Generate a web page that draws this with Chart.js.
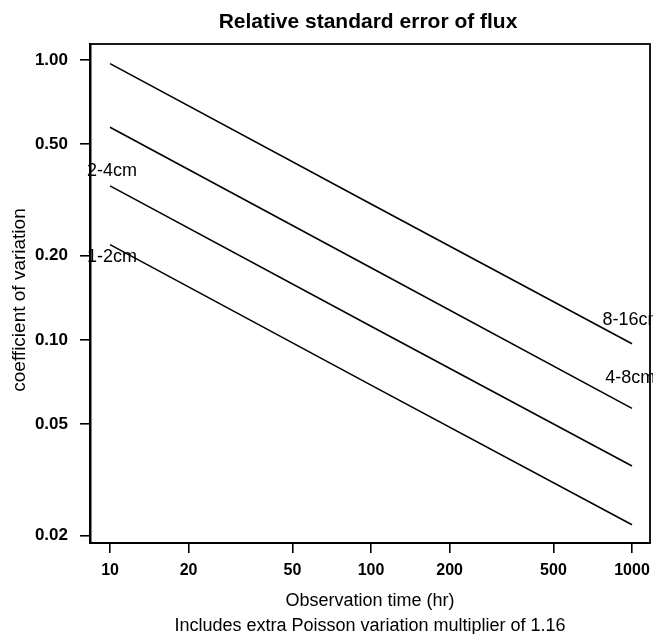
<!DOCTYPE html>
<html>
<head>
<meta charset="utf-8">
<script src="https://cdn.jsdelivr.net/npm/chart.js@4"></script>
<style>
  html, body { margin: 0; padding: 0; background: #fff; }
  #wrap { width: 653px; height: 634px; }
</style>
</head>
<body>
<div id="wrap"><canvas id="myChart" width="653" height="634"></canvas></div>
<script>
// observation time (hr) and coefficient of variation
var hours = [10, 100, 1000];
var cv_8_16 = [0.97, 0.306, 0.097];
var cv_4_8 = [0.575, 0.181, 0.057];
var cv_2_4 = [0.355, 0.112, 0.0355];
var cv_1_2 = [0.219, 0.069, 0.0219];
var seriesNames = ['8-16cm', '4-8cm', '2-4cm', '1-2cm'];
var xTicks = [10, 20, 50, 100, 200, 500, 1000];
var yTicks = [0.02, 0.05, 0.1, 0.2, 0.5, 1.0];

var FONT = '"Liberation Sans", Arial, Helvetica, sans-serif';

function pts(ys) {
    return hours.map(function (h, i) { return { x: h, y: ys[i] }; });
}

function lineSet(name, ys) {
    return {
        label: name,
        data: pts(ys),
        borderColor: '#000',
        borderWidth: 1.6,
        pointRadius: 0,
        fill: false,
        tension: 0
    };
}

var textPlugin = {
    id: 'textPlugin',
    beforeDraw: function (chart) {
        var c = chart.ctx, a = chart.chartArea;
        var xs = chart.scales.x, ys = chart.scales.y;
        c.save();
        c.fillStyle = '#000';
        c.font = '18px ' + FONT;
        c.textBaseline = 'middle';
        c.textAlign = 'left';
        // curve labels
        c.fillText(seriesNames[0], xs.getPixelForValue(770), ys.getPixelForValue(0.118));
        c.fillText(seriesNames[1], xs.getPixelForValue(790), ys.getPixelForValue(0.073));
        c.fillText(seriesNames[2], a.left - 3, ys.getPixelForValue(0.4));
        c.fillText(seriesNames[3], a.left - 3, ys.getPixelForValue(0.198));
        c.restore();
    },
    afterDraw: function (chart) {
        var c = chart.ctx, a = chart.chartArea;
        var cx = (a.left + a.right) / 2;
        c.save();
        // box
        c.strokeStyle = '#000';
        c.lineWidth = 1.8;
        c.strokeRect(a.left, a.top, a.right - a.left, a.bottom - a.top);
        c.fillStyle = '#000';
        c.textAlign = 'center';
        c.textBaseline = 'middle';
        c.font = 'bold 21px ' + FONT;
        c.fillText('Relative standard error of flux', cx - 2, 22);
        c.font = '18px ' + FONT;
        c.fillText('Observation time (hr)', cx, 601);
        c.fillText('Includes extra Poisson variation multiplier of 1.16', cx, 626);
        c.font = '19px ' + FONT;
        c.translate(20, 300);
        c.rotate(-Math.PI / 2);
        c.fillText('coefficient of variation', 0, 0);
        c.restore();
    }
};

var ctx = document.getElementById('myChart').getContext('2d');
var myChart = new Chart(ctx, {
    type: 'line',
    data: {
        datasets: [
            lineSet(seriesNames[0], cv_8_16),
            lineSet(seriesNames[1], cv_4_8),
            lineSet(seriesNames[2], cv_2_4),
            lineSet(seriesNames[3], cv_1_2)
        ]
    },
    options: {
        responsive: false,
        animation: false,
        layout: { padding: { top: 44, right: 3, left: 0, bottom: 0 } },
        plugins: {
            legend: { display: false },
            title: { display: false },
            tooltip: { enabled: false }
        },
        scales: {
            x: {
                type: 'logarithmic',
                min: 8.38,
                max: 1172,
                afterBuildTicks: function (s) { s.ticks = xTicks.map(function (v) { return { value: v }; }); },
                afterFit: function (s) { s.height = 91; s.paddingLeft = 0; s.paddingRight = 0; },
                grid: { drawOnChartArea: false, drawTicks: true, tickLength: 10, color: '#000', lineWidth: 1.6 },
                border: { display: true, color: '#000', width: 2 },
                ticks: {
                    autoSkip: false, maxRotation: 0, padding: 8, color: '#000',
                    font: { family: FONT, size: 16, weight: 'bold' },
                    callback: function (v) { return String(v); }
                }
            },
            y: {
                type: 'logarithmic',
                min: 0.01884,
                max: 1.14,
                afterBuildTicks: function (s) { s.ticks = yTicks.map(function (v) { return { value: v }; }); },
                afterFit: function (s) { s.width = 90; s.paddingTop = 0; s.paddingBottom = 0; },
                grid: { drawOnChartArea: false, drawTicks: true, tickLength: 10, color: '#000', lineWidth: 1.6 },
                border: { display: true, color: '#000', width: 2.5 },
                ticks: {
                    autoSkip: false, padding: 12, color: '#000',
                    font: { family: FONT, size: 17, weight: 'bold' },
                    callback: function (v) { return Number(v).toFixed(2); }
                }
            }
        }
    },
    plugins: [textPlugin]
});
</script>
</body>
</html>
